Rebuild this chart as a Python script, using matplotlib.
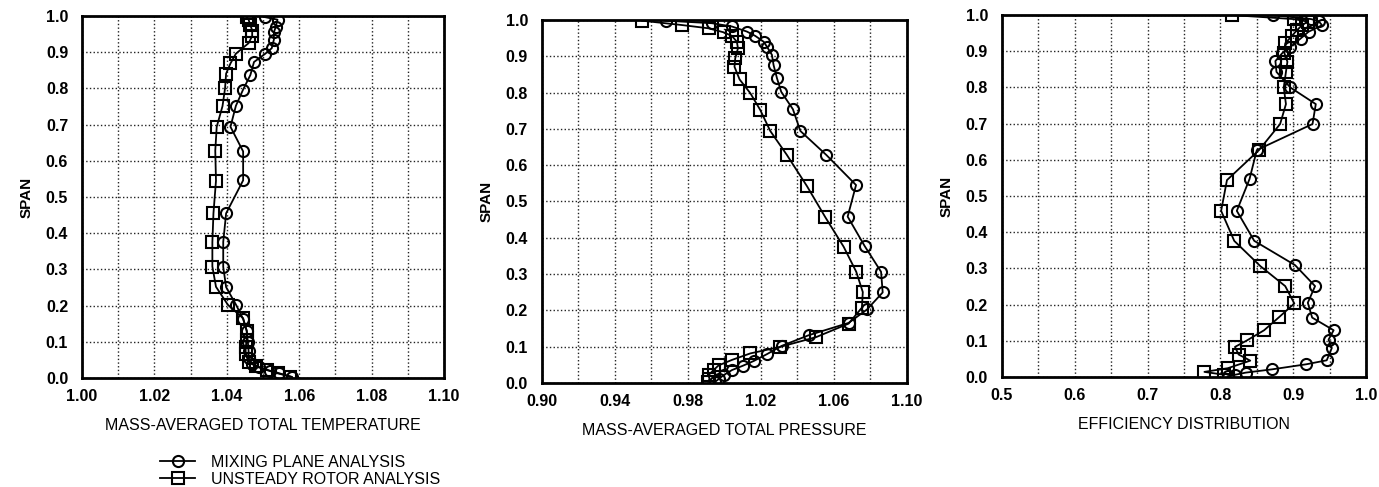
import matplotlib
matplotlib.use("Agg")
import matplotlib.pyplot as plt
from matplotlib.ticker import MultipleLocator, FormatStrFormatter
from matplotlib.lines import Line2D

plt.rcParams['font.family'] = ['Liberation Sans', 'DejaVu Sans']

# ---------------- data ----------------
# Panel 1: mass-averaged total temperature
temp_mix_x = [1.0505, 1.054, 1.0535, 1.053, 1.053, 1.0524, 1.0505, 1.0475, 1.0465, 1.0445, 1.0425,
              1.041, 1.0445, 1.0445, 1.0398, 1.039, 1.039, 1.0398, 1.0425, 1.0445, 1.0455, 1.0458,
              1.046, 1.046, 1.047, 1.049, 1.052, 1.0545, 1.058]
temp_mix_y = [0.997, 0.99, 0.97, 0.955, 0.935, 0.911, 0.895, 0.873, 0.837, 0.797, 0.752,
              0.694, 0.626, 0.546, 0.455, 0.376, 0.307, 0.251, 0.203, 0.163, 0.13, 0.1,
              0.075, 0.055, 0.04, 0.03, 0.02, 0.013, 0.003]
temp_uns_x = [1.0455, 1.046, 1.0465, 1.047, 1.047, 1.046, 1.0425, 1.041, 1.0398, 1.0395, 1.0388,
              1.0372, 1.0368, 1.037, 1.0363, 1.036, 1.036, 1.037, 1.0403, 1.0445, 1.0455, 1.0455,
              1.0452, 1.0452, 1.046, 1.048, 1.051, 1.054, 1.0575]
temp_uns_y = [0.997, 0.99, 0.975, 0.96, 0.945, 0.925, 0.896, 0.869, 0.841, 0.8, 0.751,
              0.694, 0.628, 0.545, 0.455, 0.375, 0.308, 0.252, 0.202, 0.165, 0.13, 0.105,
              0.085, 0.065, 0.045, 0.032, 0.022, 0.013, 0.004]

# Panel 2: mass-averaged total pressure
pres_mix_x = [0.968, 0.9932, 1.0041, 1.0123, 1.0169, 1.0215, 1.0233, 1.026, 1.0269, 1.0288, 1.0311,
              1.0375, 1.0416, 1.0558, 1.0721, 1.0675, 1.0768, 1.0858, 1.0867, 1.0781, 1.068,
              1.0461, 1.0315, 1.0233, 1.016, 1.0101, 1.0041, 0.9995, 0.9968, 0.995]
pres_mix_y = [0.998, 0.991, 0.982, 0.968, 0.956, 0.94, 0.926, 0.904, 0.876, 0.839, 0.802,
              0.754, 0.694, 0.628, 0.545, 0.458, 0.377, 0.306, 0.249, 0.202, 0.165,
              0.131, 0.102, 0.079, 0.06, 0.047, 0.035, 0.021, 0.01, 0.003]
pres_uns_x = [0.9548, 0.9767, 0.9913, 0.9995, 1.0041, 1.0068, 1.0074, 1.0059, 1.0055, 1.0083, 1.0142,
              1.0196, 1.0251, 1.0342, 1.0452, 1.0553, 1.0653, 1.0722, 1.0758, 1.0753, 1.068,
              1.0503, 1.0306, 1.0142, 1.0041, 0.9968, 0.994, 0.9913, 0.9918, 0.991]
pres_uns_y = [0.998, 0.986, 0.977, 0.966, 0.956, 0.94, 0.922, 0.894, 0.871, 0.836, 0.798,
              0.752, 0.694, 0.628, 0.542, 0.456, 0.375, 0.306, 0.25, 0.207, 0.163,
              0.126, 0.099, 0.081, 0.063, 0.048, 0.035, 0.021, 0.01, 0.003]

# Panel 3: efficiency distribution
eff_mix_x = [0.872, 0.9245, 0.935, 0.9396, 0.921, 0.91, 0.896, 0.885, 0.8755, 0.877, 0.896,
             0.931, 0.9265, 0.850, 0.840, 0.8225, 0.8465, 0.9025, 0.930, 0.920, 0.926,
             0.9555, 0.9485, 0.953, 0.946, 0.918, 0.871, 0.835, 0.82, 0.81]
eff_mix_y = [1.0, 0.989, 0.983, 0.972, 0.954, 0.935, 0.912, 0.895, 0.873, 0.843, 0.8,
             0.754, 0.699, 0.627, 0.547, 0.459, 0.376, 0.309, 0.251, 0.205, 0.164,
             0.129, 0.103, 0.08, 0.046, 0.035, 0.021, 0.012, 0.006, 0.002]
eff_uns_x = [0.816, 0.9006, 0.92, 0.912, 0.905, 0.898, 0.889, 0.888, 0.892, 0.890, 0.887,
             0.890, 0.882, 0.853, 0.809, 0.801, 0.819, 0.855, 0.889, 0.9015, 0.881,
             0.860, 0.8365, 0.82, 0.825, 0.841, 0.81, 0.778, 0.805]
eff_uns_y = [1.0, 0.989, 0.982, 0.972, 0.958, 0.942, 0.922, 0.894, 0.871, 0.843, 0.8,
             0.754, 0.699, 0.627, 0.544, 0.459, 0.376, 0.306, 0.251, 0.203, 0.166,
             0.129, 0.101, 0.083, 0.062, 0.045, 0.024, 0.014, 0.006]

span_ticks = [0.0, 0.1, 0.2, 0.3, 0.4, 0.5, 0.6, 0.7, 0.8, 0.9, 1.0]
temp_ticks = [1.00, 1.02, 1.04, 1.06, 1.08, 1.10]
pres_ticks = [0.90, 0.94, 0.98, 1.02, 1.06, 1.10]
eff_ticks = [0.5, 0.6, 0.7, 0.8, 0.9, 1.0]
xlabels = ["MASS-AVERAGED TOTAL TEMPERATURE", "MASS-AVERAGED TOTAL PRESSURE", "EFFICIENCY DISTRIBUTION"]
legend_labels = ["MIXING PLANE ANALYSIS", "UNSTEADY ROTOR ANALYSIS"]

# ---------------- figure ----------------
fig = plt.figure(figsize=(13.79, 4.87), dpi=100)
axes_rects = [
    (0.0595, 0.2238, 0.2625, 0.7433),
    (0.3930, 0.2140, 0.2647, 0.7450),
    (0.7266, 0.2260, 0.2640, 0.7430),
]
xconf = [
    dict(lim=(1.00, 1.10), ticks=temp_ticks, minor=0.01, fmt='%.2f'),
    dict(lim=(0.90, 1.10), ticks=pres_ticks, minor=0.02, fmt='%.2f'),
    dict(lim=(0.5, 1.0), ticks=eff_ticks, minor=0.05, fmt='%.1f'),
]
series = [
    (temp_mix_x, temp_mix_y, temp_uns_x, temp_uns_y),
    (pres_mix_x, pres_mix_y, pres_uns_x, pres_uns_y),
    (eff_mix_x, eff_mix_y, eff_uns_x, eff_uns_y),
]

line_kw = dict(color='black', linewidth=1.3, markersize=8, markeredgewidth=1.5,
               markerfacecolor='none', markeredgecolor='black')

for rect, xc, (mx, my, ux, uy), xl in zip(axes_rects, xconf, series, xlabels):
    ax = fig.add_axes(rect)
    ax.plot(mx, my, marker='o', **line_kw)
    ax.plot(ux, uy, marker='s', **line_kw)
    ax.set_xlim(*xc['lim'])
    ax.set_ylim(0.0, 1.0)
    ax.set_xticks(xc['ticks'])
    ax.xaxis.set_minor_locator(MultipleLocator(xc['minor']))
    ax.xaxis.set_major_formatter(FormatStrFormatter(xc['fmt']))
    ax.set_yticks(span_ticks)
    ax.yaxis.set_major_formatter(FormatStrFormatter('%.1f'))
    ax.grid(which='both', linestyle=':', color='#222222', linewidth=1.0)
    ax.tick_params(which='both', length=0, labelsize=11.5)
    ax.tick_params(axis='x', pad=8)
    ax.tick_params(axis='y', pad=10)
    for lab in ax.get_xticklabels() + ax.get_yticklabels():
        lab.set_fontweight('bold')
    for sp in ax.spines.values():
        sp.set_linewidth(2.0)
    ax.set_xlabel(xl, fontsize=11.5, labelpad=10)
    ax.set_ylabel("SPAN", fontsize=11, fontweight='bold', labelpad=9)

handles = [Line2D([], [], marker='o', **line_kw), Line2D([], [], marker='s', **line_kw)]
fig.legend(handles, legend_labels, loc='upper left', bbox_to_anchor=(0.116, 0.066),
           frameon=False, fontsize=11.5, handlelength=2.2, handletextpad=1.0,
           labelspacing=0.12, borderpad=0, borderaxespad=0)

fig.savefig("out.png", dpi=100)
